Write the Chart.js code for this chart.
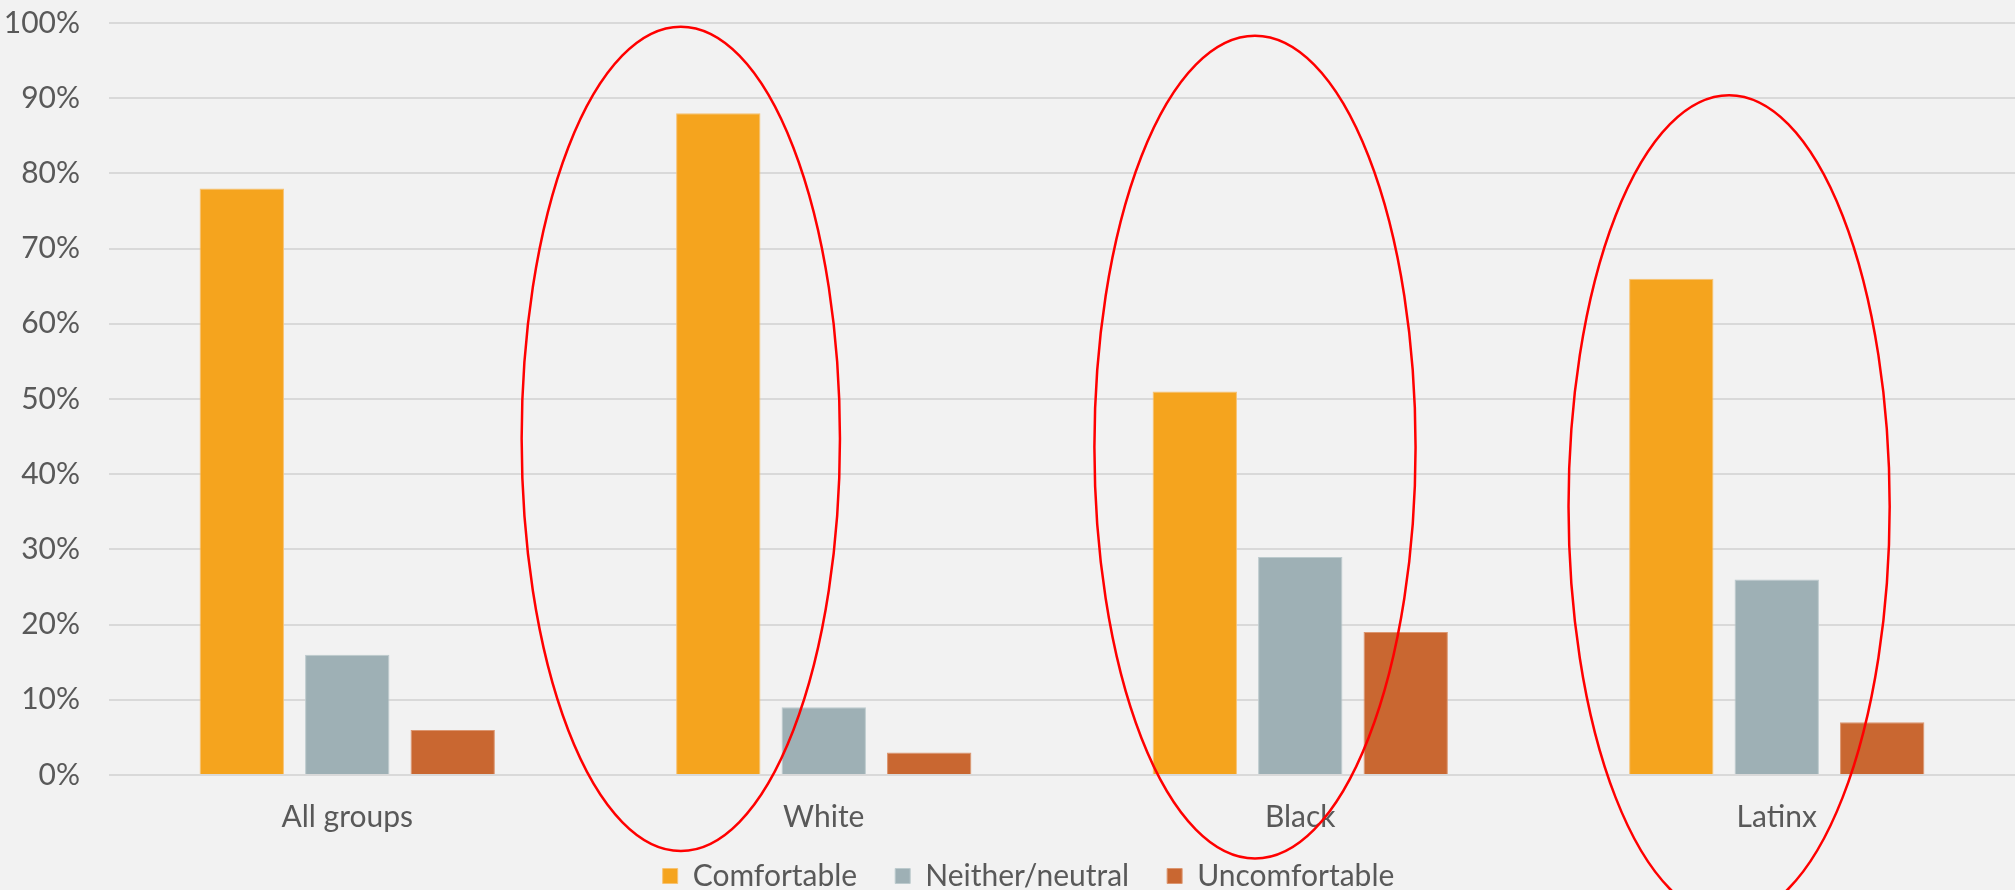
<!DOCTYPE html>
<html>
<head>
<meta charset="utf-8">
<script src="https://cdn.jsdelivr.net/npm/chart.js@4/dist/chart.umd.min.js"></script>
<style>
  html, body { margin: 0; padding: 0; background: #f2f2f2; overflow: hidden; }
  #wrap { width: 2015px; height: 890px; position: relative; }
</style>
</head>
<body>
<div id="wrap"><canvas id="chart"></canvas></div>
<script>
const groups = ['All groups', 'White', 'Black', 'Latinx'];
const comfortable = [78, 88, 51, 66];
const neutral = [16, 9, 29, 26];
const uncomfortable = [6, 3, 19, 7];
const yTickValues = [0, 10, 20, 30, 40, 50, 60, 70, 80, 90, 100];

// hand-drawn red rings around three groups (shift/halfWidth in category widths, mid/halfHeight in %)
const rings = [
  { group: 'White', shift: -0.30, halfWidth: 0.334, mid: 44.7, halfHeight: 54.8 },
  { group: 'Black', shift: -0.095, halfWidth: 0.337, mid: 43.6, halfHeight: 54.7 },
  { group: 'Latinx', shift: -0.10, halfWidth: 0.337, mid: 35.7, halfHeight: 54.7 },
];

const textColor = '#595959';
const font = { family: 'Lato', size: 30 };

const ringPlugin = {
  id: 'rings',
  afterDraw(chart) {
    const { ctx } = chart;
    const x = chart.scales.x;
    const y = chart.scales.y;
    const step = x.getPixelForValue(1) - x.getPixelForValue(0);
    ctx.save();
    ctx.strokeStyle = '#ff0000';
    ctx.lineWidth = 2.5;
    rings.forEach((ring) => {
      const cx = x.getPixelForValue(groups.indexOf(ring.group)) + ring.shift * step;
      const cy = y.getPixelForValue(ring.mid);
      const ry = y.getPixelForValue(ring.mid - ring.halfHeight) - cy;
      ctx.beginPath();
      ctx.ellipse(cx, cy, ring.halfWidth * step, ry, 0, 0, Math.PI * 2);
      ctx.stroke();
    });
    ctx.restore();
  },
};

// nudge the legend a bit right and up, like the original
const legendNudge = {
  id: 'legendNudge',
  afterLayout(chart) {
    const lg = chart.legend;
    lg.left += 21;
    lg.right += 21;
    lg.top -= 28;
    lg.bottom -= 28;
  },
};

const ctx = document.getElementById('chart');
new Chart(ctx, {
  type: 'bar',
  data: {
    labels: groups,
    datasets: [
      { label: 'Comfortable', data: comfortable, backgroundColor: '#f5a41e', borderColor: '#f7c272', borderWidth: 1 },
      { label: 'Neither/neutral', data: neutral, backgroundColor: '#9eb0b5', borderColor: '#bccacd', borderWidth: 1 },
      { label: 'Uncomfortable', data: uncomfortable, backgroundColor: '#c96731', borderColor: '#dc9670', borderWidth: 1 },
    ],
  },
  options: {
    responsive: true,
    maintainAspectRatio: false,
    animation: false,
    categoryPercentage: 0.664,
    barPercentage: 0.8,
    layout: { padding: { top: 23, left: 0, right: 0, bottom: -39 } },
    plugins: {
      legend: {
        position: 'bottom',
        labels: { color: textColor, font, boxWidth: 15, boxHeight: 15, padding: 38 },
      },
      tooltip: { enabled: false },
    },
    scales: {
      x: {
        grid: { display: false },
        border: { display: false },
        ticks: { color: textColor, font, padding: 16 },
      },
      y: {
        min: 0,
        max: 100,
        afterBuildTicks: (scale) => { scale.ticks = yTickValues.map((v) => ({ value: v })); },
        grid: { color: '#d9d9d9', lineWidth: 2, drawTicks: false },
        border: { display: false },
        ticks: { color: textColor, font, padding: 29, callback: (v) => v + '%' },
        afterFit: (scale) => {
          scale.width = 109;
          scale.paddingTop = 0;
          scale.paddingBottom = 0;
        },
      },
    },
  },
  plugins: [ringPlugin, legendNudge],
});
</script>
</body>
</html>
